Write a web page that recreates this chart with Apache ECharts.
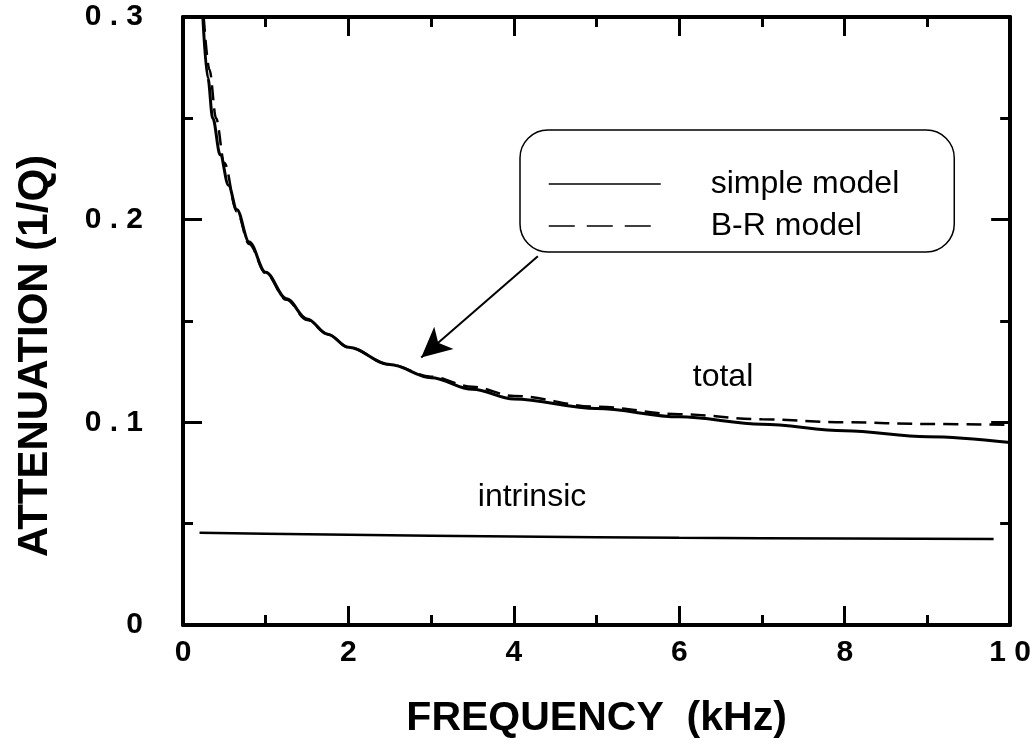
<!DOCTYPE html>
<html>
<head>
<meta charset="utf-8">
<script src="https://cdn.jsdelivr.net/npm/echarts@6/dist/echarts.min.js"></script>
<style>
html,body{margin:0;padding:0;background:#fff;}
#chart{width:1034px;height:746px;}
</style>
</head>
<body>
<div id="chart"></div>
<script>
// Data
var simpleX = [0.24, 0.30, 0.36, 0.45, 0.55, 0.65, 0.80, 1.00, 1.25, 1.50, 1.75, 2.00, 2.50, 3.00, 3.50, 4.00, 5.00, 6.00, 7.00, 8.00, 9.00, 10.0];
var simpleY = [0.300, 0.270, 0.250, 0.232, 0.217, 0.205, 0.189, 0.174, 0.161, 0.151, 0.1435, 0.137, 0.1285, 0.1220, 0.1163, 0.1115, 0.1068, 0.1027, 0.0991, 0.0959, 0.0929, 0.0900];
var brX = [0.25, 0.32, 0.40, 0.50, 0.65, 0.80, 1.00, 1.25, 1.50, 1.75, 2.00, 2.50, 3.00, 3.50, 4.00, 5.00, 6.00, 7.00, 8.00, 9.00, 10.0];
var brY = [0.300, 0.274, 0.250, 0.228, 0.204, 0.188, 0.1735, 0.1605, 0.1505, 0.1435, 0.137, 0.1285, 0.1225, 0.1175, 0.1130, 0.1077, 0.1040, 0.1015, 0.1000, 0.0992, 0.0987];
var intrinsicX = [0.2, 1, 2, 4, 6, 8, 9.8];
var intrinsicY = [0.0455, 0.045, 0.0445, 0.0437, 0.043, 0.0427, 0.0424];
var arrowFrom = [4.29, 0.182];
var arrowTo = [2.88, 0.132];
var seriesNames = ['simple model', 'B-R model'];
var xTitle = 'FREQUENCY  (kHz)';
var yTitle = 'ATTENUATION (1/Q)';

function pairs(xs, ys){ return xs.map(function(x,i){ return [x, ys[i]]; }); }

var FONT = '"Liberation Sans", Arial, Helvetica, sans-serif';
var black = '#000';

function axisCommon(isX, pos, showLabel){
  return {
    type: 'value',
    position: pos,
    min: 0,
    max: isX ? 10 : 0.3,
    interval: isX ? 2 : 0.1,
    axisLine: {show: true, onZero: false, lineStyle: {color: black, width: 4}},
    axisTick: {show: true, inside: true, length: 19, lineStyle: {color: black, width: 3}},
    minorTick: {show: true, splitNumber: 2, length: 10, lineStyle: {color: black, width: 3}},
    splitLine: {show: false},
    minorSplitLine: {show: false},
    axisLabel: {
      show: showLabel,
      color: black,
      fontFamily: FONT,
      fontWeight: 'bold',
      fontSize: 30,
      margin: isX ? 13 : 40,
      formatter: function(v){
        if (v === 0) return '0';
        var s = isX ? String(v) : v.toFixed(1);
        return s.split('').join(' ');
      }
    }
  };
}

var xBottom = axisCommon(true, 'bottom', true);
xBottom.name = xTitle;
xBottom.nameLocation = 'middle';
xBottom.nameGap = 73;
xBottom.nameTextStyle = {color: black, fontFamily: FONT, fontWeight: 'bold', fontSize: 41};
var xTop = axisCommon(true, 'top', false);
var yLeft = axisCommon(false, 'left', true);
yLeft.name = yTitle;
yLeft.nameLocation = 'middle';
yLeft.nameGap = 127;
yLeft.nameTextStyle = {color: black, fontFamily: FONT, fontWeight: 'bold', fontSize: 42, padding: [0, 70, 0, 0]};
var yRight = axisCommon(false, 'right', false);

var option = {
  animation: false,
  backgroundColor: '#fff',
  grid: {left: 183, right: 18, top: 17, bottom: 121, containLabel: false},
  xAxis: [xBottom, xTop],
  yAxis: [yLeft, yRight],
  legend: {
    data: [
      {name: seriesNames[0], lineStyle: {width: 1.5}},
      {name: seriesNames[1], lineStyle: {width: 1.5, type: [26, 12]}}
    ],
    orient: 'vertical',
    left: 520,
    top: 130,
    itemWidth: 112,
    itemHeight: 14,
    itemGap: 10,
    padding: [38, 55, 10, 28],
    borderColor: black,
    borderWidth: 1.5,
    borderRadius: 28,
    backgroundColor: '#fff',
    selectedMode: false,
    itemStyle: {opacity: 0},
    textStyle: {color: black, fontFamily: FONT, fontSize: 32, padding: [0, 0, 0, 45]}
  },
  graphic: [
    {type: 'text', x: 723, y: 377, style: {text: 'total', font: '32px ' + FONT, fill: black, textAlign: 'center', textVerticalAlign: 'middle'}},
    {type: 'text', x: 532, y: 497, style: {text: 'intrinsic', font: '32px ' + FONT, fill: black, textAlign: 'center', textVerticalAlign: 'middle'}}
  ],
  series: [
    {
      name: seriesNames[0], type: 'line', xAxisIndex: 0, yAxisIndex: 0,
      data: pairs(simpleX, simpleY), smooth: 0.35, smoothMonotone: 'x', symbol: 'none',
      lineStyle: {color: black, width: 3}, itemStyle: {color: black},
      markLine: {
        silent: true, symbol: ['none', 'arrow'], symbolSize: [22, 30],
        label: {show: false},
        lineStyle: {color: black, width: 2, type: 'solid'},
        data: [[{coord: arrowFrom}, {coord: arrowTo}]]
      }
    },
    {
      name: seriesNames[1], type: 'line', xAxisIndex: 0, yAxisIndex: 0,
      data: pairs(brX, brY), smooth: 0.35, smoothMonotone: 'x', symbol: 'none',
      lineStyle: {color: black, width: 2.5, type: [15, 8]}, itemStyle: {color: black}
    },
    {
      name: 'intrinsic', type: 'line', xAxisIndex: 0, yAxisIndex: 0,
      data: pairs(intrinsicX, intrinsicY), smooth: true, symbol: 'none',
      lineStyle: {color: black, width: 2.5}, itemStyle: {color: black}
    }
  ]
};

var chart = echarts.init(document.getElementById('chart'), null, {renderer: 'canvas'});
chart.setOption(option);
</script>
</body>
</html>
